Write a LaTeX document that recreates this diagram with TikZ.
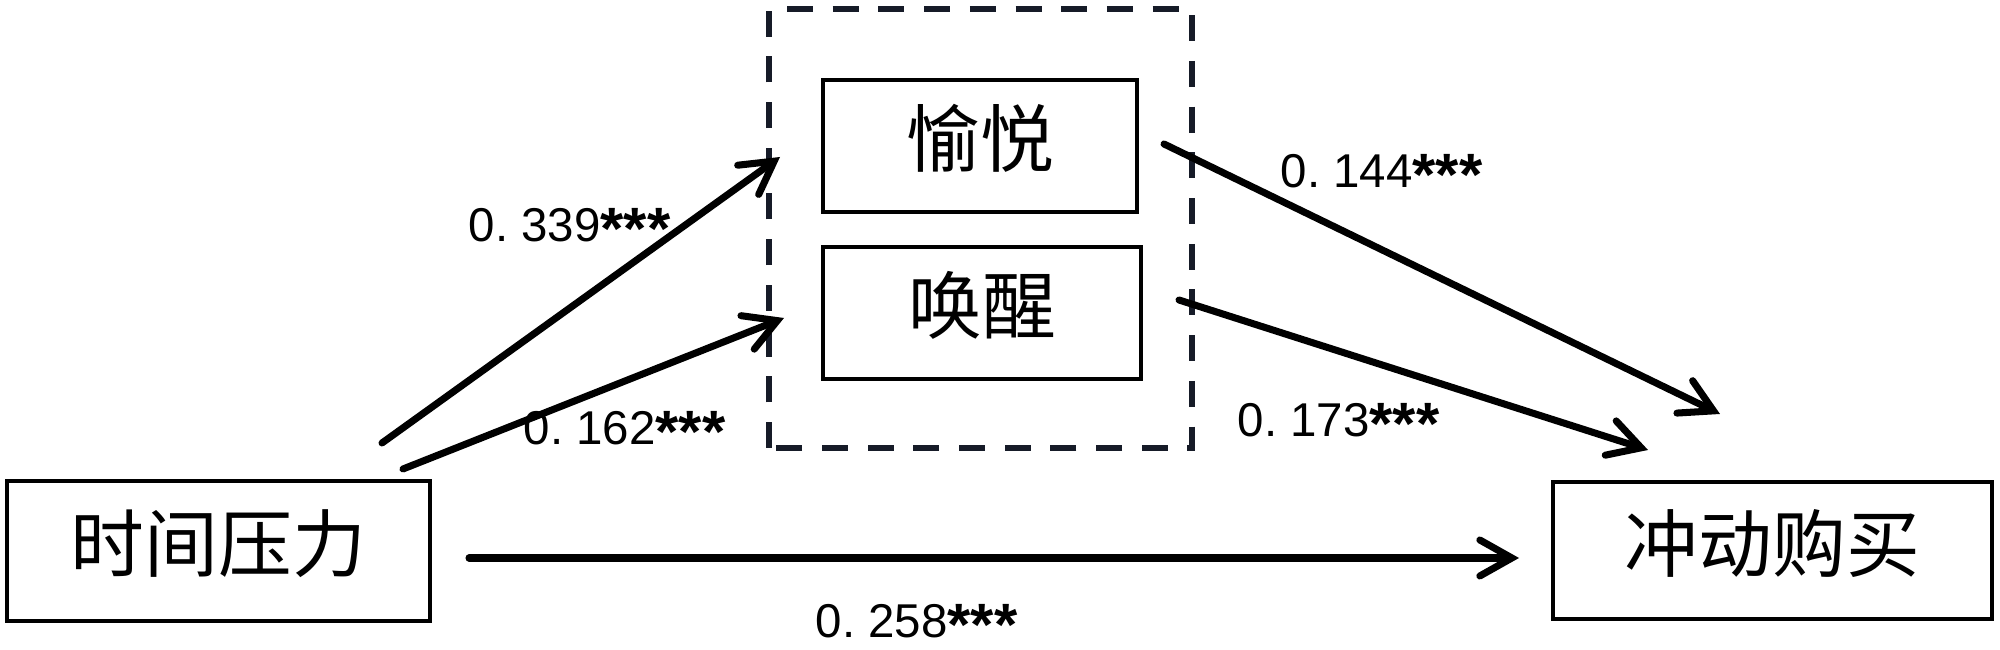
\documentclass[tikz,border=0pt]{standalone}
\usepackage{fontspec}
\setmainfont{Liberation Sans}
\newfontfamily\cjk{Noto Sans CJK SC}
\usetikzlibrary{arrows.meta}
\definecolor{dashcol}{RGB}{22,27,40}
\newcommand{\sig}{\raisebox{-0.08cm}[\height][0pt]{\fontsize{17pt}{17pt}\selectfont\bfseries ***}}
\newcommand{\coefnum}[2]{#1.\kern0.28em#2\sig}
\tikzset{
  varbox/.style={draw=black, line width=1pt, rectangle, inner sep=0pt,
    font=\cjk\fontsize{21pt}{21pt}\selectfont, text height=0.7cm, text depth=0.28cm},
  patharrow/.style={line width=2pt, line cap=round,
    -{Straight Barb[length=3.2mm, width=3.6mm, line width=2pt, line cap=round]}},
  coef/.style={font=\fontsize{13.5pt}{13.5pt}\selectfont, inner sep=0pt, anchor=base west},
  groupbox/.style={draw=dashcol, line width=1.6pt, dash pattern=on 2.6mm off 1.97mm}
}
\begin{document}
\begin{tikzpicture}
\useasboundingbox (0,0) rectangle (20,6.5);
% group (dashed) box
\draw[groupbox] (7.69,2.02) rectangle (11.92,6.41);
% variable boxes
\node[varbox, minimum width=4.23cm, minimum height=1.40cm] (A) at (2.185,0.99) {时间压力};
\node[varbox, minimum width=3.14cm, minimum height=1.32cm] (B) at (9.80,5.04) {愉悦};
\node[varbox, minimum width=3.18cm, minimum height=1.32cm] (C) at (9.82,3.37) {唤醒};
\node[varbox, minimum width=4.39cm, minimum height=1.37cm] (D) at (17.725,0.995) {冲动购买};
% arrow end points
\coordinate (a1s) at (3.82,2.07);
\coordinate (a1e) at (7.80,4.93);
\coordinate (a2s) at (4.03,1.81);
\coordinate (a2e) at (7.84,3.32);
\coordinate (a3s) at (11.64,5.06);
\coordinate (a3e) at (17.20,2.36);
\coordinate (a4s) at (11.79,3.50);
\coordinate (a4e) at (16.48,2.00);
\coordinate (a5s) at (4.69,0.92);
\coordinate (a5e) at (15.19,0.92);
% arrows
\draw[patharrow] (a1s) -- (a1e);
\draw[patharrow] (a2s) -- (a2e);
\draw[patharrow] (a3s) -- (a3e);
\draw[patharrow] (a4s) -- (a4e);
\draw[patharrow] (a5s) -- (a5e);
% coefficients
\node[coef] (c1) at (4.68,4.08) {\coefnum{0}{339}};
\node[coef] (c2) at (5.23,2.05) {\coefnum{0}{162}};
\node[coef] (c3) at (12.80,4.62) {\coefnum{0}{144}};
\node[coef] (c4) at (12.37,2.13) {\coefnum{0}{173}};
\node[coef] (c5) at (8.15,0.12) {\coefnum{0}{258}};
\end{tikzpicture}
\end{document}
